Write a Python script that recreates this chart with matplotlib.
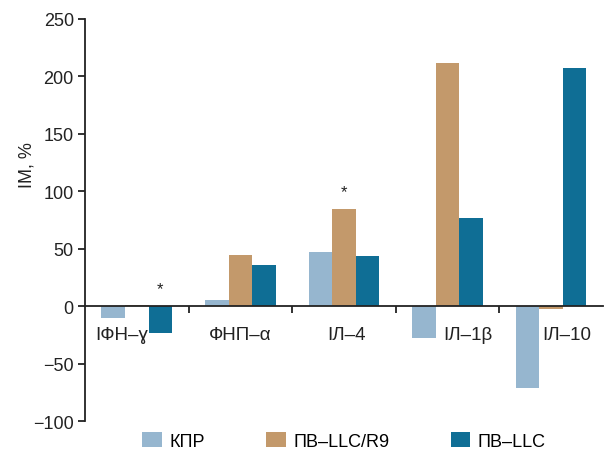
import numpy as np
import matplotlib
matplotlib.use("Agg")
import matplotlib.pyplot as plt

# ── Data ────────────────────────────────────────────────────────────
categories = ["ІФН–ɣ", "ФНП–α", "ІЛ–4", "ІЛ–1β", "ІЛ–10"]
series_names = ["КПР", "ПВ–LLC/R9", "ПВ–LLC"]
kpr = [-10, 5, 47, -28, -71]
llc_r9 = [1, 45, 85, 212, -2]
llc = [-23, 36, 44, 77, 207]
# (category index, series index) for significance stars
stars = [(0, 2), (2, 1)]

colors = ["#96b6cf", "#c3996b", "#0f6e95"]

# ── Fonts ───────────────────────────────────────────────────────────
plt.rcParams["font.family"] = ["Liberation Sans", "DejaVu Sans"]
plt.rcParams["font.size"] = 13

fig = plt.figure(figsize=(6.07, 4.52), dpi=100)
ax = fig.add_axes([0.14, 0.066, 0.853, 0.89])

x = np.arange(len(categories))
width = 0.227
all_series = [kpr, llc_r9, llc]
for i, (vals, name) in enumerate(zip(all_series, series_names)):
    ax.bar(x + (i - 1) * width, vals, width, color=colors[i], label=name, zorder=2)

for ci, si in stars:
    v = max(all_series[si][ci], 0)
    ax.text(ci + (si - 1) * width, v + 15, "*", ha="center", va="center", fontsize=12, color="#222222")

# category labels just below the zero line
label_shift = [-0.15, 0.0, 0.03, 0.2, 0.15]
for ci, lab in enumerate(categories):
    ax.text(ci + label_shift[ci], -25, lab, ha="center", va="center", fontsize=13.5, color="#222222")

ax.set_xlim(-0.5, len(categories) - 0.5)
ax.set_ylim(-100, 250)
ax.set_yticks(np.arange(-100, 251, 50))
ax.set_yticklabels([str(v).replace("-", "−") for v in range(-100, 251, 50)])
ax.set_xticks(np.arange(0.5, len(categories) - 0.5, 1))
ax.set_xticklabels([])

ax.spines["top"].set_visible(False)
ax.spines["right"].set_visible(False)
ax.spines["bottom"].set_position(("data", 0))
for side in ["left", "bottom"]:
    ax.spines[side].set_linewidth(1.3)
    ax.spines[side].set_color("#222222")
ax.tick_params(axis="y", length=5, width=1.3, colors="#222222", labelsize=13, pad=3)
ax.tick_params(axis="x", length=5, width=1.3, direction="out", colors="#222222")

ax.set_ylabel("ІМ, %", fontsize=13, color="#222222")
ax.yaxis.set_label_coords(-0.095, 0.64)

ax.legend(loc="upper center", bbox_to_anchor=(0.5, -0.0), ncol=3, frameon=False,
          handlelength=1.1, handleheight=0.9, handletextpad=0.4, columnspacing=3.4,
          fontsize=13, borderaxespad=0.2)

fig.savefig("out.png", dpi=100)
